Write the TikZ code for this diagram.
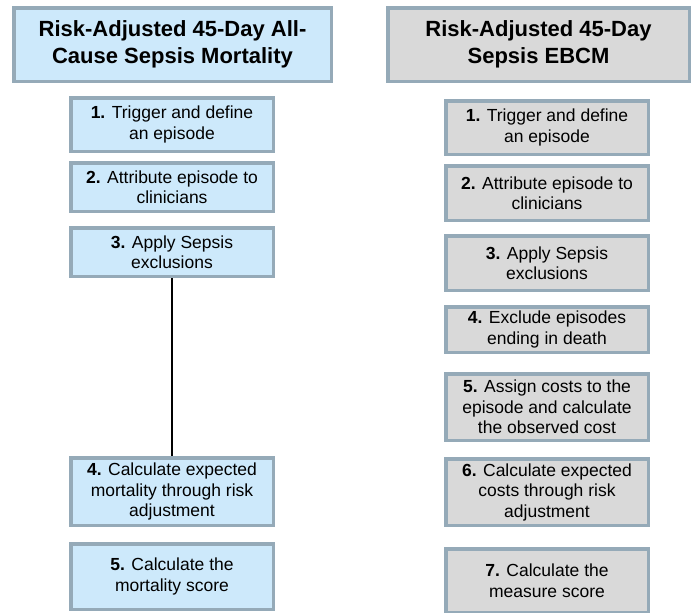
\documentclass[tikz,border=0pt]{standalone}
\usepackage{fontspec}
\setmainfont{Liberation Sans}
\usepackage{xcolor}
\usepackage{tikz}
\definecolor{edgeblue}{HTML}{95AAB8}
\definecolor{mortfill}{HTML}{CDE9FB}
\definecolor{costfill}{HTML}{D9D9D9}
\tikzset{
  head/.style={draw=edgeblue, line width=3.5pt, align=center, inner sep=0pt,
    font=\fontsize{22}{27}\selectfont\bfseries, minimum height=73.5pt},
  stepbox/.style={draw=edgeblue, line width=3.5pt, align=center, inner sep=0pt,
    font=\fontsize{17.5}{20.5}\selectfont, minimum width=202.5pt}
}

\begin{document}
\begin{tikzpicture}[x=1pt, y=-1pt]
      \useasboundingbox (0,0) rectangle (694,613);

      % Headers
      \node[head, fill=mortfill, minimum width=317.5pt] (mhead) at (172.5,44.5)
        {Risk-Adjusted 45-Day All-\\Cause Sepsis Mortality};
      \node[head, fill=costfill, minimum width=301.5pt] (chead) at (538.5,44.5)
        {Risk-Adjusted 45-Day\\Sepsis EBCM};

      % Mortality steps
      \node[stepbox, fill=mortfill, minimum height=53.5pt] (m1) at (172,124.5)
        {\textbf{1.} Trigger and define\\an episode};
      \node[stepbox, fill=mortfill, minimum height=48.5pt] (m2) at (172,187)
        {\textbf{2.} Attribute episode to\\clinicians};
      \node[stepbox, fill=mortfill, minimum height=48.5pt] (m3) at (172,252)
        {\textbf{3.} Apply Sepsis\\exclusions};
      \node[stepbox, fill=mortfill, minimum height=67.5pt] (m4) at (172,491.5)
        {\textbf{4.} Calculate expected\\mortality through risk\\adjustment};
      \node[stepbox, fill=mortfill, minimum height=65.5pt] (m5) at (172,576.5)
        {\textbf{5.} Calculate the\\mortality score};

      % Gap between step 3 and step 4
      \draw[line width=1.5pt] (m3.south) -- (m4.north);

      % EBCM steps
      \node[stepbox, fill=costfill, minimum height=53.5pt] (c1) at (547,127.5)
        {\textbf{1.} Trigger and define\\an episode};
      \node[stepbox, fill=costfill, minimum height=54.5pt] (c2) at (547,193)
        {\textbf{2.} Attribute episode to\\clinicians};
      \node[stepbox, fill=costfill, minimum height=54.5pt] (c3) at (547,263)
        {\textbf{3.} Apply Sepsis\\exclusions};
      \node[stepbox, fill=costfill, minimum height=45.5pt] (c4) at (547,329.5)
        {\textbf{4.} Exclude episodes\\ending in death};
      \node[stepbox, fill=costfill, minimum height=66.5pt] (c5) at (547,407)
        {\textbf{5.} Assign costs to the\\episode and calculate\\the observed cost};
      \node[stepbox, fill=costfill, minimum height=66.5pt] (c6) at (547,492)
        {\textbf{6.} Calculate expected\\costs through risk\\adjustment};
      \node[stepbox, fill=costfill, minimum height=63.5pt] (c7) at (547,580.5)
        {\textbf{7.} Calculate the\\measure score};
  \end{tikzpicture}
\end{document}
